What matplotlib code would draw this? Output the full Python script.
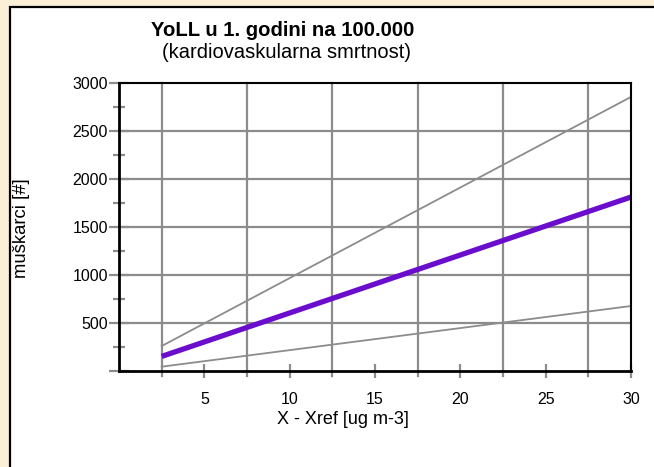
import matplotlib
matplotlib.use("Agg")
import matplotlib.pyplot as plt
from matplotlib.patches import Rectangle
from matplotlib.ticker import FixedLocator

plt.rcParams['font.family'] = ['Liberation Sans', 'DejaVu Sans']

x = [2.5, 30]
upper = [260, 2855]
central = [152, 1812]
lower = [45, 677]

xticks = [5, 10, 15, 20, 25, 30]
yticks = [500, 1000, 1500, 2000, 2500, 3000]

W, H = 654, 467
fig = plt.figure(figsize=(W / 100, H / 100), dpi=100)
fig.patch.set_facecolor('#FBEFD8')
panel = Rectangle((10 / W, -0.05), 1.0, 1 - 7 / H + 0.05, transform=fig.transFigure,
                  facecolor='white', edgecolor='black', linewidth=1.6, zorder=-5)
fig.patches.append(panel)

ax = fig.add_axes([119 / W, 1 - 371 / H, (631 - 119) / W, (371 - 83) / H])
ax.set_facecolor('white')
ax.set_xlim(0, 30)
ax.set_ylim(0, 3000)

gridc = '#8c8c8c'
for xv in [2.5, 7.5, 12.5, 17.5, 22.5, 27.5]:
    ax.axvline(xv, color=gridc, lw=1.6, zorder=1, ymin=-5 / 288, clip_on=False)
for yv in [500, 1000, 1500, 2000, 2500]:
    ax.axhline(yv, color=gridc, lw=1.6, zorder=1)

ax.plot(x, upper, color='#8c8c8c', lw=1.3, zorder=3)
ax.plot(x, lower, color='#8c8c8c', lw=1.3, zorder=3)
ax.plot(x, central, color='#6A0DCC', lw=3.8, zorder=4, solid_capstyle='butt')

for s in ['left', 'bottom']:
    ax.spines[s].set_linewidth(2.0)
for s in ['top', 'right']:
    ax.spines[s].set_linewidth(1.5)
for s in ax.spines.values():
    s.set_color('black')
    s.set_zorder(5)

ax.xaxis.set_major_locator(FixedLocator(xticks))
ax.set_xticklabels([str(v) for v in xticks])
ax.yaxis.set_major_locator(FixedLocator([0] + yticks))
ax.set_yticklabels([''] + [str(v) for v in yticks])
ax.yaxis.set_minor_locator(FixedLocator([250, 750, 1250, 1750, 2250, 2750]))
ax.tick_params(axis='x', which='major', direction='inout', length=10, width=1.6,
               color=gridc, labelsize=11.5, pad=10)
ax.tick_params(axis='y', which='major', direction='inout', length=14, width=1.6,
               color=gridc, labelsize=11.5, pad=1)
ax.tick_params(axis='y', which='minor', direction='inout', length=8, width=1.6,
               color=gridc)
ax.tick_params(axis='x', which='minor', length=0)

fig.text(343 / W, 1 - 419 / H, 'X - Xref [ug m-3]', fontsize=13,
         ha='center', va='center')
fig.text(22 / W, 1 - 228 / H, 'muškarci [#]', rotation=90, fontsize=13.3,
         ha='center', va='center')

fig.text(283 / W, 1 - 31 / H, 'YoLL u 1. godini na 100.000', fontsize=14.6,
         fontweight='bold', ha='center', va='center')
fig.text(286 / W, 1 - 52 / H, '(kardiovaskularna smrtnost)', fontsize=14.5,
         ha='center', va='center')

fig.savefig('out.png', dpi=100, facecolor=fig.get_facecolor())
